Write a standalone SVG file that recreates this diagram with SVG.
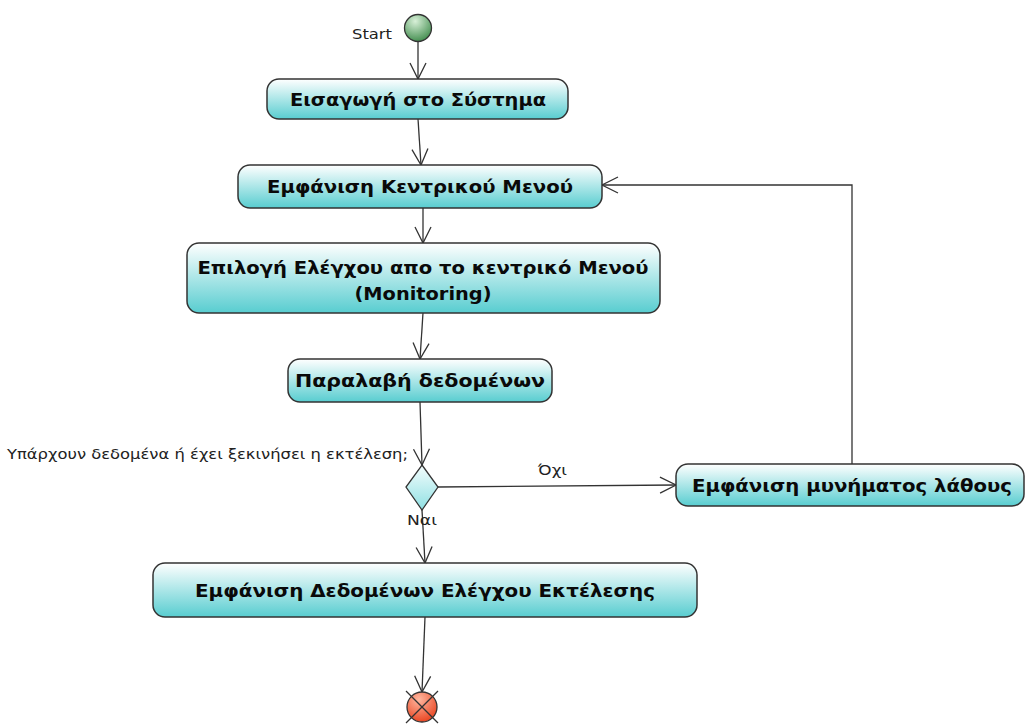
<svg xmlns="http://www.w3.org/2000/svg" width="1025" height="725" viewBox="0 0 1025 725">
  <defs>
    <linearGradient id="actFill" x1="0" y1="0" x2="0" y2="1">
      <stop offset="0" stop-color="#ffffff"/>
      <stop offset="1" stop-color="#58cdd0"/>
    </linearGradient>
    <linearGradient id="decFill" x1="0" y1="0" x2="0" y2="1">
      <stop offset="0" stop-color="#f4fdfd"/>
      <stop offset="1" stop-color="#8fe0e3"/>
    </linearGradient>
    <radialGradient id="startFill" cx="0.4" cy="0.25" r="0.8">
      <stop offset="0" stop-color="#d8f0d8"/>
      <stop offset="1" stop-color="#3d8a4a"/>
    </radialGradient>
    <radialGradient id="endFill" cx="0.4" cy="0.25" r="0.8">
      <stop offset="0" stop-color="#ffb8a0"/>
      <stop offset="1" stop-color="#e8401c"/>
    </radialGradient>
    <marker id="open" viewBox="0 0 20 20" refX="18" refY="10" markerWidth="20" markerHeight="20" markerUnits="userSpaceOnUse" orient="auto">
      <path d="M2,2 L18,10 L2,18" fill="none" stroke="#333" stroke-width="1.3"/>
    </marker>
  </defs>
  <style>
    .act { fill: url(#actFill); stroke: #333; stroke-width: 1.5; }
    .lbl { font-family: "DejaVu Sans", Verdana, sans-serif; font-weight: bold; font-size: 17.5px; fill: #0a0a0a; text-anchor: middle; }
    .txt { font-family: "DejaVu Sans", Verdana, sans-serif; font-size: 14px; fill: #222; }
    .edge { fill: none; stroke: #333; stroke-width: 1.3; marker-end: url(#open); }
  </style>
  <rect width="1025" height="725" fill="#ffffff"/>

  <g id="connectors">
    <line class="edge" x1="418" y1="42" x2="418" y2="79"/>
    <line class="edge" x1="418" y1="119" x2="421" y2="165"/>
    <line class="edge" x1="423" y1="208" x2="423" y2="243"/>
    <line class="edge" x1="423" y1="313" x2="420" y2="359"/>
    <line class="edge" x1="420" y1="402" x2="422" y2="465"/>
    <line class="edge" x1="422" y1="510" x2="425" y2="563"/>
    <line class="edge" x1="425" y1="617" x2="422" y2="692"/>
    <line class="edge" x1="438" y1="487" x2="676" y2="485"/>
    <polyline class="edge" points="852,464 852,185 602,185"/>
    <text class="txt" x="538" y="475" textLength="29" lengthAdjust="spacingAndGlyphs">Όχι</text>
    <text class="txt" x="407" y="525" textLength="30" lengthAdjust="spacingAndGlyphs">Ναι</text>
  </g>

  <g id="start">
    <circle cx="418" cy="28" r="13.5" fill="url(#startFill)" stroke="#333" stroke-width="1.3"/>
    <text class="txt" x="352" y="39" textLength="40" lengthAdjust="spacingAndGlyphs">Start</text>
  </g>

  <g id="n-login">
    <rect class="act" x="267" y="79" width="301" height="40" rx="12"/>
    <text class="lbl" x="418" y="106" textLength="256" lengthAdjust="spacingAndGlyphs">Εισαγωγή στο Σύστημα</text>
  </g>

  <g id="n-menu">
    <rect class="act" x="238" y="165" width="364" height="43" rx="12"/>
    <text class="lbl" x="420" y="193" textLength="306" lengthAdjust="spacingAndGlyphs">Εμφάνιση Κεντρικού Μενού</text>
  </g>

  <g id="n-select">
    <rect class="act" x="187" y="243" width="473" height="70" rx="12"/>
    <text class="lbl" x="423" y="274" textLength="451" lengthAdjust="spacingAndGlyphs">Επιλογή Ελέγχου απο το κεντρικό Μενού</text>
    <text class="lbl" x="423" y="300" textLength="137" lengthAdjust="spacingAndGlyphs">(Monitoring)</text>
  </g>

  <g id="n-receive">
    <rect class="act" x="288" y="359" width="264" height="43" rx="12"/>
    <text class="lbl" x="420" y="387" textLength="250" lengthAdjust="spacingAndGlyphs">Παραλαβή δεδομένων</text>
  </g>

  <g id="decision">
    <polygon points="422,465 438,487 422,510 406,487" fill="url(#decFill)" stroke="#333" stroke-width="1.3"/>
    <text class="txt" x="7" y="459" textLength="401" lengthAdjust="spacingAndGlyphs">Υπάρχουν δεδομένα ή έχει ξεκινήσει η εκτέλεση;</text>
  </g>

  <g id="n-error">
    <rect class="act" x="676" y="464" width="348" height="42" rx="12"/>
    <text class="lbl" x="852" y="492" textLength="320" lengthAdjust="spacingAndGlyphs">Εμφάνιση μυνήματος λάθους</text>
  </g>

  <g id="n-show">
    <rect class="act" x="153" y="563" width="544" height="54" rx="12"/>
    <text class="lbl" x="425" y="597" textLength="460" lengthAdjust="spacingAndGlyphs">Εμφάνιση Δεδομένων Ελέγχου Εκτέλεσης</text>
  </g>

  <g id="end">
    <circle cx="422" cy="707" r="15" fill="url(#endFill)" stroke="#333" stroke-width="1.3"/>
    <line x1="406" y1="691" x2="438" y2="723" stroke="#333" stroke-width="1.3"/>
    <line x1="438" y1="691" x2="406" y2="723" stroke="#333" stroke-width="1.3"/>
  </g>
</svg>
